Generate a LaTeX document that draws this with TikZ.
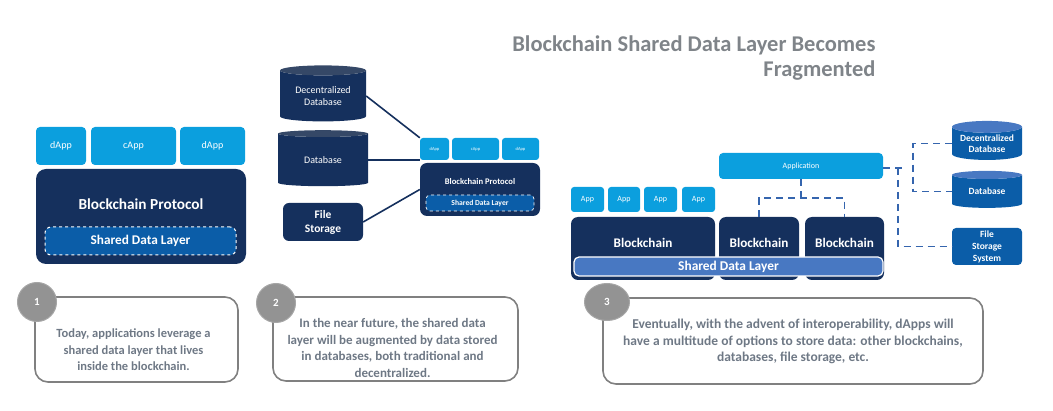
\documentclass[tikz,border=0pt]{standalone}
\usepackage{fontspec}
\setmainfont{Carlito}
\usetikzlibrary{shapes.geometric}
\definecolor{navy}{HTML}{15305D}
\definecolor{skyblue}{HTML}{0B9FDE}
\definecolor{midblue}{HTML}{0B5DA8}
\definecolor{barblue}{HTML}{4878C2}
\definecolor{dashblue}{HTML}{3565AE}
\definecolor{notegray}{HTML}{808080}
\definecolor{notetext}{HTML}{6E7885}
\definecolor{titlegray}{HTML}{7F8489}
\tikzset{
  app/.style={fill=skyblue, text=white, rounded corners=4pt, inner sep=0pt},
  chain/.style={fill=navy, rounded corners=10pt, inner sep=0pt},
  label/.style={text=white, font=\bfseries},
  layer/.style={fill=midblue, draw=white, dashed, line width=1pt, rounded corners=6pt, inner sep=0pt, text=white, font=\bfseries},
  db/.style={cylinder, shape border rotate=90, aspect=0.18, cylinder uses custom fill, inner sep=0pt, text=white, align=center},
  link/.style={navy, line width=1.6pt},
  dlink/.style={dashblue, line width=1.6pt, dash pattern=on 7pt off 5pt},
  note/.style={draw=notegray, line width=1.6pt, rounded corners=13pt, inner sep=0pt},
  notetxt/.style={text=notetext, align=center, font=\bfseries\fontsize{13}{16.5}\selectfont},
  badge/.style={circle, fill=notegray!85, draw=notegray!70, line width=1pt, inner sep=0pt, text=white, font=\bfseries\fontsize{11}{13}\selectfont}
}
\begin{document}
\begin{tikzpicture}[x=1pt, y=-1pt]
  \useasboundingbox (0,0) rectangle (1053,411);

  % title
  \node[anchor=east, align=right, text=titlegray, font=\bfseries\fontsize{22.5}{24.5}\selectfont] (title) at (879,58) {Blockchain Shared Data Layer Becomes\\Fragmented};

  % panel 1
  \node[app, minimum width=50, minimum height=38, font=\fontsize{10}{12}\selectfont] (a1) at (61,146) {dApp};
  \node[app, minimum width=85, minimum height=38, font=\fontsize{10}{12}\selectfont] (a2) at (133.5,146) {cApp};
  \node[app, minimum width=65, minimum height=38, font=\fontsize{10}{12}\selectfont] (a3) at (212.5,146) {dApp};
  \node[chain, minimum width=210, minimum height=95] (bc1) at (141,216.5) {};
  \node[label, font=\bfseries\fontsize{15.3}{18}\selectfont] (bc1txt) at (141,204) {Blockchain Protocol};
  \node[layer, minimum width=191, minimum height=28, font=\bfseries\fontsize{13.3}{15}\selectfont] (sdl1) at (140.5,241) {Shared Data Layer};

  % panel 2
  \node[db, minimum width=86, minimum height=56, cylinder body fill=navy, cylinder end fill=navy!70!gray, font=\fontsize{10}{12.5}\selectfont] (ddb2) at (323,96) {Decentralized\\Database};
  \node[db, minimum width=90, minimum height=56, cylinder body fill=navy, cylinder end fill=navy!70!gray, font=\fontsize{10}{12.5}\selectfont] (db2) at (323,160) {Database};
  \node[chain, rounded corners=6pt, minimum width=80, minimum height=38, label, align=center, font=\bfseries\fontsize{11.5}{14}\selectfont] (fs2) at (323,222) {File\\Storage};
  \node[app, rounded corners=3pt, minimum width=29, minimum height=22, font=\fontsize{4.5}{5}\selectfont] (b1) at (434.5,149) {dApp};
  \node[app, rounded corners=3pt, minimum width=47, minimum height=22, font=\fontsize{4.5}{5}\selectfont] (b2) at (475.5,149) {cApp};
  \node[app, rounded corners=3pt, minimum width=37, minimum height=22, font=\fontsize{4.5}{5}\selectfont] (b3) at (520.5,149) {dApp};
  \node[chain, rounded corners=7pt, minimum width=120, minimum height=53] (bc2) at (480,189.5) {};
  \node[label, font=\bfseries\fontsize{8.6}{10}\selectfont] (bc2txt) at (480,182) {Blockchain Protocol};
  \node[layer, rounded corners=4pt, line width=0.7pt, minimum width=108, minimum height=16, font=\bfseries\fontsize{7.6}{9}\selectfont] (sdl2) at (480,203) {Shared Data Layer};
  \draw[link] (ddb2.east) -- (b1.north west);
  \draw[link] (db2.east) -- (db2.east -| bc2.west);
  \draw[link] (fs2.east) -- (bc2.west);

  % panel 3
  \node[app, rounded corners=3pt, minimum width=33, minimum height=25, font=\fontsize{8}{10}\selectfont] (c1) at (587.5,199.5) {App};
  \node[app, rounded corners=3pt, minimum width=32, minimum height=25, font=\fontsize{8}{10}\selectfont] (c2) at (624,199.5) {App};
  \node[app, rounded corners=3pt, minimum width=33, minimum height=25, font=\fontsize{8}{10}\selectfont] (c3) at (660.5,199.5) {App};
  \node[app, rounded corners=3pt, minimum width=33, minimum height=25, font=\fontsize{8}{10}\selectfont] (c4) at (698.5,199.5) {App};
  \node[chain, rounded corners=7pt, minimum width=144, minimum height=63] (bc3a) at (643,248.5) {};
  \node[chain, rounded corners=7pt, minimum width=80, minimum height=63] (bc3b) at (759,248.5) {};
  \node[chain, rounded corners=7pt, minimum width=79, minimum height=63] (bc3c) at (844.5,248.5) {};
  \node[label, font=\bfseries\fontsize{13.2}{15}\selectfont] at (643,243) {Blockchain};
  \node[label, font=\bfseries\fontsize{13.2}{15}\selectfont] at (759,243) {Blockchain};
  \node[label, font=\bfseries\fontsize{13.2}{15}\selectfont] at (844.5,243) {Blockchain};
  \node[fill=barblue, draw=white, line width=1.2pt, rounded corners=5pt, minimum width=309, minimum height=19, inner sep=0pt, label, font=\bfseries\fontsize{13.4}{15}\selectfont] (sdl3) at (728.5,266.5) {Shared Data Layer};
  \node[app, rounded corners=4pt, minimum width=164, minimum height=26, font=\fontsize{8}{10}\selectfont] (dapp) at (801,166) {Application};
  \node[db, aspect=0.22, minimum width=70, minimum height=39, cylinder body fill=midblue, cylinder end fill=barblue, font=\bfseries\fontsize{9.5}{11.5}\selectfont] (ddb3) at (987,143.5) {Decentralized\\Database};
  \node[db, aspect=0.22, minimum width=70, minimum height=37, cylinder body fill=midblue, cylinder end fill=barblue, font=\bfseries\fontsize{9.5}{11.5}\selectfont] (db3) at (987,191.5) {Database};
  \node[fill=midblue, rounded corners=4pt, minimum width=70, minimum height=37, inner sep=0pt, label, align=center, font=\bfseries\fontsize{9.5}{12}\selectfont] (fs3) at (987,246.5) {File\\Storage\\System};
  \coordinate (split) at (801,198);
  \coordinate (stub) at (907,168);
  \draw[dlink] (dapp.south) -- (split);
  \draw[dlink] (bc3b.north) |- (split) -| (bc3c.north);
  \draw[dlink] (dapp.east |- stub) -- (stub);
  \draw[dlink] (898,168) |- (fs3.west);
  \draw[dlink] (ddb3.west) -| (913,167) |- (db3.west);

  % notes
  \node[note, minimum width=203, minimum height=85] (n1) at (136.5,339.5) {};
  \node[badge, minimum size=39] (k1) at (37,302) {1};
  \node[notetxt, font=\bfseries\fontsize{12.5}{16.5}\selectfont] (t1) at (133.5,350) {Today, applications leverage a\\shared data layer that lives\\inside the blockchain.};
  \node[note, minimum width=245, minimum height=84] (n2) at (395.5,339) {};
  \node[badge, minimum size=39] (k2) at (276,303) {2};
  \node[notetxt] (t2) at (392.5,348) {In the near future, the shared data\\layer will be augmented by data stored\\in databases, both traditional and\\decentralized.};
  \node[note, minimum width=380, minimum height=86] (n3) at (793,341) {};
  \node[badge, ellipse, minimum width=45, minimum height=37] (k3) at (607,302) {3};
  \node[notetxt, font=\bfseries\fontsize{13.5}{16.5}\selectfont] (t3) at (793,341.5) {Eventually, with the advent of interoperability, dApps will\\have a multitude of options to store data: other blockchains,\\databases, file storage, etc.};
\end{tikzpicture}
\end{document}
